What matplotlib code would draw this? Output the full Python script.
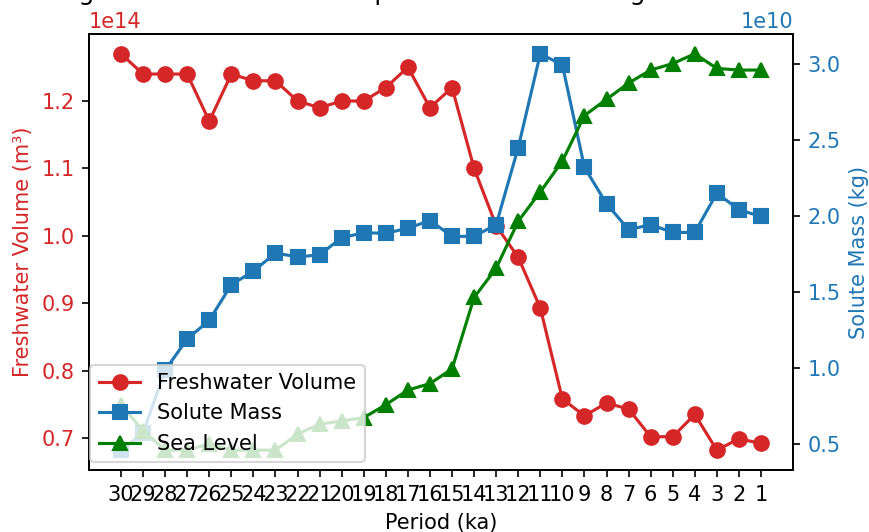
import matplotlib.pyplot as plt

periods = ['30', '29', '28', '27', '26', '25', '24', '23', '22', '21',
           '20', '19', '18', '17', '16', '15', '14', '13', '12', '11',
           '10', '9', '8', '7', '6', '5', '4', '3', '2', '1']

# freshwater volume (m3), solute mass (kg), sea level (m)
freshwater = [1.27e14, 1.24e14, 1.24e14, 1.24e14, 1.17e14, 1.24e14, 1.23e14, 1.23e14, 1.20e14, 1.19e14,
              1.20e14, 1.20e14, 1.22e14, 1.25e14, 1.19e14, 1.22e14, 1.10e14, 1.015e14, 0.968e14, 0.893e14,
              0.758e14, 0.733e14, 0.752e14, 0.743e14, 0.702e14, 0.702e14, 0.735e14, 0.682e14, 0.699e14, 0.692e14]
solute = [0.458e10, 0.572e10, 0.985e10, 1.19e10, 1.313e10, 1.548e10, 1.636e10, 1.757e10, 1.73e10, 1.745e10,
          1.857e10, 1.89e10, 1.886e10, 1.92e10, 1.97e10, 1.866e10, 1.866e10, 1.943e10, 2.451e10, 3.068e10,
          2.995e10, 2.32e10, 2.081e10, 1.91e10, 1.943e10, 1.892e10, 1.892e10, 2.151e10, 2.041e10, 1.997e10]
sea_level = [-106, -114, -120, -120, -118, -120, -120, -120, -115, -112,
             -111, -110, -106, -101.5, -99.5, -95, -73, -64, -49.5, -40.5,
             -31, -17, -12, -7, -3, -1, 2, -2.5, -3, -3]

fig = plt.figure(figsize=(869 / 150, 532 / 150), dpi=150)
ax1 = fig.add_axes([89 / 869, 1 - 470 / 532, (793 - 89) / 869, (470 - 34) / 532])

l1, = ax1.plot(periods, freshwater, color='tab:red', marker='o', markersize=7, label='Freshwater Volume')
ax1.set_xlabel('Period (ka)')
ax1.set_ylabel('Freshwater Volume (m³)', color='tab:red')
ax1.tick_params(axis='y', labelcolor='tab:red')

ax2 = ax1.twinx()
l2, = ax2.plot(periods, solute, color='tab:blue', marker='s', markersize=7, label='Solute Mass')
ax2.set_ylabel('Solute Mass (kg)', color='tab:blue')
ax2.tick_params(axis='y', labelcolor='tab:blue')

# sea level gets its own scale, axis hidden
ax3 = ax1.twinx()
l3, = ax3.plot(periods, sea_level, color='green', marker='^', markersize=7, label='Sea Level')
ax3.yaxis.set_visible(False)

ax3.legend(handles=[l1, l2, l3], loc='lower left', bbox_to_anchor=(0.002, 0.018), borderaxespad=0)

fig.text(820 / 869, 1 - 5 / 532, 'Change of Total Solute Mass per Period and Change in Sea Level',
         ha='right', va='bottom', fontsize=12)

fig.savefig('out.png', dpi=150)
